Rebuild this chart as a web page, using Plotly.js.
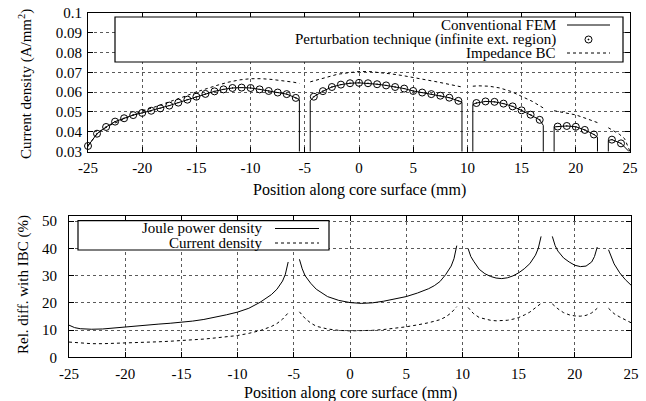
<!DOCTYPE html>
<html><head><meta charset="utf-8">
<script src="https://cdn.plot.ly/plotly-3.0.1.min.js"></script>
<style>html,body{margin:0;padding:0;background:#fff}</style>
</head><body><div id="chart" style="width:646px;height:401px"></div>
<script>
// ---- Top panel: current density along core surface ----
const pertX = [-25,-24.17,-23.33,-22.5,-21.67,-20.83,-20,-19.17,-18.33,-17.5,-16.67,-15.83,-15,-14.17,-13.33,-12.5,-11.67,-10.83,-10,-9.17,-8.33,-7.5,-6.67,-5.83,
  -4.17,-3.33,-2.5,-1.67,-0.83,0,0.83,1.67,2.5,3.33,4.17,5,5.83,6.67,7.5,8.33,9.17,
  10.83,11.67,12.5,13.33,14.17,15,15.83,16.67,
  18.33,19.17,20,20.83,21.67,
  23.33,24.17,25];
const pertY = [0.0328,0.0390,0.0424,0.0451,0.0468,0.0484,0.0495,0.0506,0.0518,0.0532,0.0547,0.0562,0.0577,0.0591,0.0604,0.0614,0.0621,0.0623,0.0621,0.0614,0.0606,0.0598,0.0590,0.0571,
  0.0577,0.0605,0.0626,0.0638,0.0645,0.0647,0.0645,0.0640,0.0634,0.0626,0.0618,0.0606,0.0598,0.0590,0.0582,0.0572,0.0556,
  0.0545,0.0553,0.0551,0.0542,0.0528,0.0508,0.0486,0.0460,
  0.0426,0.0429,0.0425,0.0409,0.0386,
  0.0360,0.0341,0.0295];

const femX = [-25,-24.17,-23.33,-22.5,-21.67,-20.83,-20,-19.17,-18.33,-17.5,-16.67,-15.83,-15,-14.17,-13.33,-12.5,-11.67,-10.83,-10,-9.17,-8.33,-7.5,-6.67,-5.83,-5.5,-5.5,
  -4.5,-4.5,-4.17,-3.33,-2.5,-1.67,-0.83,0,0.83,1.67,2.5,3.33,4.17,5,5.83,6.67,7.5,8.33,9.17,9.5,9.5,
  10.5,10.5,10.83,11.67,12.5,13.33,14.17,15,15.83,16.67,17,17,
  18,18,18.33,19.17,20,20.83,21.67,22,22,
  23,23,23.33,24.17,25];
const femY = [0.0328,0.0390,0.0424,0.0451,0.0468,0.0484,0.0495,0.0506,0.0518,0.0532,0.0547,0.0562,0.0577,0.0591,0.0604,0.0614,0.0621,0.0623,0.0621,0.0614,0.0606,0.0598,0.0590,0.0571,0.0562,0,
  0,0.0556,0.0577,0.0605,0.0626,0.0638,0.0645,0.0647,0.0645,0.0640,0.0634,0.0626,0.0618,0.0606,0.0598,0.0590,0.0582,0.0572,0.0556,0.0549,0,
  0,0.0538,0.0545,0.0553,0.0551,0.0542,0.0528,0.0508,0.0486,0.0460,0.0432,0,
  0,0.0424,0.0426,0.0429,0.0425,0.0409,0.0386,0.0372,0,
  0,0.0356,0.0360,0.0341,0.0295];

const ibcX = [-25,-24,-23,-22,-21,-20,-19,-18,-17,-16,-15,-14,-13,-12,-11,-10,-9,-8,-7,-6,-5.5,null,
  -4.5,-4,-3,-2,-1,0,1,2,3,4,5,6,7,8,9,9.5,null,
  10.5,11,12,13,14,15,16,17,null,
  18,19,20,21,22,null,
  23,23.5,24,24.5,25];
const ibcY = [0.0330,0.0400,0.0432,0.0457,0.0482,0.0505,0.0522,0.0540,0.0558,0.0580,0.0601,0.0620,0.0636,0.0651,0.0662,0.0668,0.0668,0.0664,0.0658,0.0650,0.0644,null,
  0.0652,0.0660,0.0677,0.0690,0.0698,0.0704,0.0704,0.0699,0.0692,0.0684,0.0675,0.0665,0.0654,0.0643,0.0632,0.0626,null,
  0.0630,0.0632,0.0630,0.0621,0.0604,0.0580,0.0553,0.0520,null,
  0.0506,0.0496,0.0485,0.0466,0.0446,null,
  0.0420,0.0405,0.0388,0.0365,0.0300];

// ---- Bottom panel: relative difference with IBC (%) ----
const jouleX = [-25,-24.5,-24,-23,-22,-21,-20,-19,-18,-17,-16,-15,-14,-13,-12,-11,-10,-9,-8,-7.5,-7,-6.5,-6,-5.75,-5.5,null,
  -4.5,-4.25,-4,-3.5,-3,-2,-1,0,1,2,3,4,5,6,7,7.5,8,8.5,9,9.25,9.5,null,
  10.5,10.75,11,11.5,12,12.5,13,13.5,14,14.5,15,15.5,16,16.5,16.75,17,null,
  18,18.25,18.5,19,19.5,20,20.5,21,21.5,21.75,22,null,
  23,23.25,23.5,24,24.5,25];
const jouleY = [11.8,10.9,10.5,10.3,10.4,10.8,11.2,11.5,11.9,12.2,12.5,12.8,13.3,13.9,14.7,15.6,16.6,18.0,20.2,21.5,23.0,25.0,28.0,30.5,35.0,null,
  36.0,32.5,30.0,27.2,25.0,22.3,20.9,20.1,19.8,20.0,20.6,21.4,22.3,23.6,25.2,26.3,27.8,30.3,33.5,36.2,41.0,null,
  40.0,37.0,35.3,32.3,30.7,29.7,29.1,28.9,29.2,29.9,31.0,32.5,34.4,37.5,40.0,44.4,null,
  44.4,41.0,39.0,36.5,35.0,33.8,33.3,33.5,35.0,37.0,40.5,null,
  39.5,36.5,34.3,31.0,28.5,26.5];

const curX = [-25,-24,-23,-22,-21,-20,-19,-18,-17,-16,-15,-14,-13,-12,-11,-10,-9,-8,-7,-6.5,-6,-5.5,null,
  -4.5,-4,-3.5,-3,-2,-1,0,1,2,3,4,5,6,7,8,8.5,9,9.5,null,
  10.5,11,11.5,12,12.5,13,13.5,14,14.5,15,15.5,16,16.5,17,null,
  18,18.5,19,19.5,20,20.5,21,21.5,22,null,
  23,23.5,24,24.5,25];
const curY = [5.6,5.2,5.0,5.0,5.1,5.2,5.3,5.5,5.7,5.9,6.1,6.4,6.7,7.1,7.5,8.0,8.8,9.8,11.3,12.4,14.0,16.3,null,
  16.7,14.3,12.6,11.4,10.4,9.9,9.7,9.7,9.9,10.2,10.6,11.2,11.9,12.7,13.8,14.8,16.3,18.6,null,
  18.3,16.0,14.6,14.0,13.6,13.4,13.4,13.6,14.0,14.6,15.5,16.6,18.2,19.8,null,
  19.6,17.8,16.4,15.6,15.2,15.1,15.4,16.3,18.0,null,
  18.0,16.0,14.8,13.6,12.7];

// ---- tick labels and texts ----
const xTickVals = [-25,-20,-15,-10,-5,0,5,10,15,20,25];
const xTickText = ["-25","-20","-15","-10","-5","0","5","10","15","20","25"];
const topLegend = ["Conventional FEM", "Perturbation technique (infinite ext. region)", "Impedance BC"];
const botLegend = ["Joule power density", "Current density"];
const xTitle = "Position along core surface (mm)";
const yTitleTop = "Current density (A/mm<sup>2</sup>)";
const yTitleBot = "Rel. diff. with IBC (%)";

// ---- layout helpers (pixel -> paper) ----
const W = 646, H = 401;
const fx = p => p / W, fy = p => 1 - p / H;
const FONT = "Liberation Serif";

const axisBase = {
  showline: true, linecolor: "#000", linewidth: 1, mirror: "ticks",
  ticks: "inside", ticklen: 5, tickcolor: "#000", tickwidth: 1,
  showgrid: true, gridcolor: "#5a5a5a", griddash: "dot", gridwidth: 1,
  zeroline: false, tickfont: {family: FONT, size: 15, color: "#000"},
  automargin: false
};

const traces = [
  {x: femX, y: femY, xaxis: "x", yaxis: "y", mode: "lines", line: {color: "#000", width: 1}, name: topLegend[0]},
  {x: pertX, y: pertY, xaxis: "x", yaxis: "y", mode: "markers", cliponaxis: false,
   marker: {symbol: "circle-open-dot", size: 7, color: "#000", line: {color: "#000", width: 1}}, name: topLegend[1]},
  {x: ibcX, y: ibcY, xaxis: "x", yaxis: "y", mode: "lines", connectgaps: false,
   line: {color: "#000", width: 1, dash: "dot"}, name: topLegend[2]},
  {x: jouleX, y: jouleY, xaxis: "x2", yaxis: "y2", mode: "lines", connectgaps: false,
   line: {color: "#000", width: 1}, name: botLegend[0]},
  {x: curX, y: curY, xaxis: "x2", yaxis: "y2", mode: "lines", connectgaps: false,
   line: {color: "#000", width: 1, dash: "dot"}, name: botLegend[1]}
];

const shapes = [
  // top legend box
  {type: "rect", xref: "paper", yref: "paper", x0: fx(115), x1: fx(623), y0: fy(62), y1: fy(17),
   line: {color: "#000", width: 1.2}, fillcolor: "#fff", layer: "above"},
  {type: "line", xref: "paper", yref: "paper", x0: fx(567), x1: fx(610), y0: fy(25), y1: fy(25),
   line: {color: "#000", width: 1}, layer: "above"},
  {type: "circle", xref: "paper", yref: "paper", x0: fx(585), x1: fx(592), y0: fy(43), y1: fy(36),
   line: {color: "#000", width: 1}, layer: "above"},
  {type: "circle", xref: "paper", yref: "paper", x0: fx(588), x1: fx(589), y0: fy(40), y1: fy(39),
   line: {color: "#000", width: 1}, fillcolor: "#000", layer: "above"},
  {type: "line", xref: "paper", yref: "paper", x0: fx(567), x1: fx(610), y0: fy(53), y1: fy(53),
   line: {color: "#000", width: 1, dash: "dot"}, layer: "above"},
  // bottom legend box
  {type: "rect", xref: "paper", yref: "paper", x0: fx(78), x1: fx(329), y0: fy(250), y1: fy(220.7),
   line: {color: "#000", width: 1.2}, fillcolor: "#fff", layer: "above"},
  {type: "line", xref: "paper", yref: "paper", x0: fx(275), x1: fx(319), y0: fy(228.5), y1: fy(228.5),
   line: {color: "#000", width: 1}, layer: "above"},
  {type: "line", xref: "paper", yref: "paper", x0: fx(275), x1: fx(319), y0: fy(243), y1: fy(243),
   line: {color: "#000", width: 1, dash: "dot"}, layer: "above"}
];

const legFont = {family: FONT, size: 15, color: "#000"};
const titleFont = {family: FONT, size: 16, color: "#000"};
const yTitleFont = {family: FONT, size: 15, color: "#000"};
const ann = (text, x, y, font, xanchor, extra) => Object.assign({text: text, x: fx(x), y: fy(y), xref: "paper", yref: "paper",
  xanchor: xanchor, yanchor: "middle", showarrow: false, font: font, borderpad: 0}, extra || {});
const annotations = [
  ann(topLegend[0], 557, 24.5, legFont, "right"),
  ann(topLegend[1], 557, 39, legFont, "right"),
  ann(topLegend[2], 557, 52.5, legFont, "right"),
  ann(botLegend[0], 263, 228, legFont, "right"),
  ann(botLegend[1], 263, 242.5, legFont, "right"),
  ann(xTitle, 359, 190, titleFont, "center"),
  ann(xTitle, 350, 393, titleFont, "center"),
  ann(yTitleTop, 25, 84, yTitleFont, "center", {textangle: -90}),
  ann(yTitleBot, 23, 285, yTitleFont, "center", {textangle: -90})
];

const layout = {
  width: W, height: H, margin: {l: 0, r: 0, t: 0, b: 0},
  paper_bgcolor: "#fff", plot_bgcolor: "#fff", showlegend: false,
  xaxis: Object.assign({}, axisBase, {domain: [fx(88), fx(630)], anchor: "y", range: [-25, 25],
    tickmode: "array", tickvals: xTickVals, ticktext: xTickText, ticklabelstandoff: 2}),
  yaxis: Object.assign({}, axisBase, {domain: [fy(151.5), fy(13)], anchor: "x", range: [0.03, 0.1], tick0: 0.03, dtick: 0.01,
    ticklabelstandoff: 2}),
  xaxis2: Object.assign({}, axisBase, {domain: [fx(69), fx(631)], anchor: "y2", range: [-25, 25],
    tickmode: "array", tickvals: xTickVals, ticktext: xTickText, ticklabelstandoff: 3}),
  yaxis2: Object.assign({}, axisBase, {domain: [fy(357.3), fy(215.7)], anchor: "x2", range: [0, 52], tick0: 0, dtick: 10,
    ticklabelstandoff: 8}),
  shapes: shapes, annotations: annotations
};

Plotly.newPlot("chart", traces, layout, {staticPlot: true, displayModeBar: false});
</script></body></html>
